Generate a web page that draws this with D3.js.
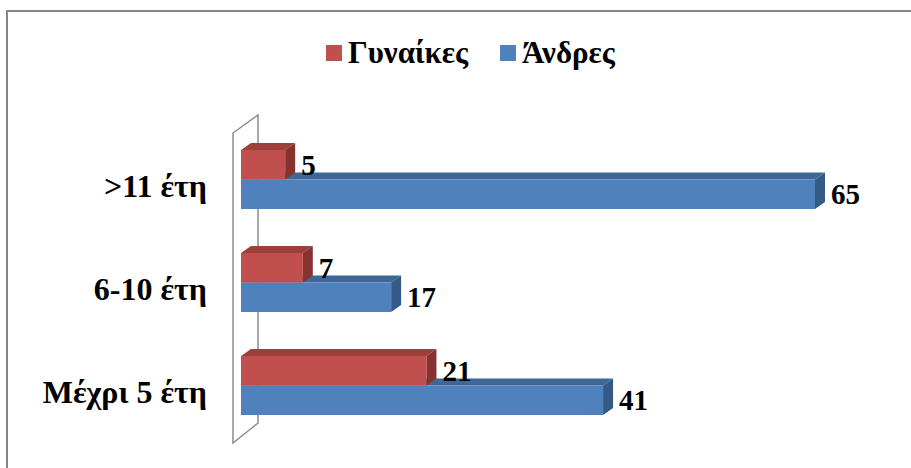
<!DOCTYPE html>
<html>
<head>
<meta charset="utf-8">
<script src="https://cdn.jsdelivr.net/npm/d3@7"></script>
<style>
    body { margin: 0; background: #fff; }
    svg { display: block; }
    text { font-family: "Liberation Serif", "Times New Roman", serif; font-weight: bold; fill: #000; }
</style>
</head>
<body>
<svg id="chart" width="911" height="468"></svg>
<script>
var categories = [">11 έτη", "6-10 έτη", "Μέχρι 5 έτη"];
var seriesNames = ["Γυναίκες", "Άνδρες"];
var women = [5, 7, 21];
var men = [65, 17, 41];

var colors = {
    "Γυναίκες": {front: "#C0504D", top: "#9E3F3C", side: "#86332F"},
    "Άνδρες": {front: "#4F81BD", top: "#3E6798", side: "#365A86"}
};

d3.select(window).on('load', init);

function init() {
    var svg = d3.select('#chart');

    // outer chart border (right / bottom edges fall outside the window)
    svg.append('rect')
        .attr('x', 7).attr('y', 11)
        .attr('width', 920).attr('height', 480)
        .attr('fill', 'none')
        .attr('stroke', '#868686')
        .attr('stroke-width', 2);

    var dx = 10, dy = -7;   // 3d depth of the bars

    var xScale = d3.scaleLinear()
        .domain([0, 65])
        .range([241, 815]);

    var yScale = d3.scaleBand()
        .domain(categories)
        .range([150, 415])
        .paddingInner(0.427);

    var ySub = d3.scaleBand()
        .domain(seriesNames)
        .range([0, yScale.bandwidth()]);

    // back wall of the 3d plot
    var wall = [[233, 133], [258, 115], [258, 423], [233, 443]];
    svg.append('path')
        .attr('d', d3.line()(wall) + 'Z')
        .attr('fill', 'none')
        .attr('stroke', '#8c8c8c')
        .attr('stroke-width', 1.5);

    var rows = [];
    categories.forEach(function(c, i) {
        rows.push({cat: c, name: "Άνδρες", value: men[i]});
        rows.push({cat: c, name: "Γυναίκες", value: women[i]});
    });

    var bars = svg.append('g').selectAll('g')
        .data(rows)
        .enter()
        .append('g');

    function geom(d) {
        var x0 = xScale(0), x1 = xScale(d.value);
        var y0 = yScale(d.cat) + ySub(d.name);
        var h = ySub.bandwidth();
        return {x0: x0, x1: x1, y0: y0, h: h};
    }

    bars.append('path')
        .attr('d', function(d) {
            var g = geom(d);
            return 'M' + g.x0 + ',' + g.y0 + 'L' + (g.x0 + dx) + ',' + (g.y0 + dy) +
                'L' + (g.x1 + dx) + ',' + (g.y0 + dy) + 'L' + g.x1 + ',' + g.y0 + 'Z';
        })
        .attr('fill', function(d) { return colors[d.name].top; });

    bars.append('path')
        .attr('d', function(d) {
            var g = geom(d);
            return 'M' + g.x1 + ',' + g.y0 + 'L' + (g.x1 + dx) + ',' + (g.y0 + dy) +
                'L' + (g.x1 + dx) + ',' + (g.y0 + g.h + dy) + 'L' + g.x1 + ',' + (g.y0 + g.h) + 'Z';
        })
        .attr('fill', function(d) { return colors[d.name].side; });

    bars.append('rect')
        .attr('x', function(d) { return geom(d).x0; })
        .attr('y', function(d) { return geom(d).y0; })
        .attr('width', function(d) { return geom(d).x1 - geom(d).x0; })
        .attr('height', function(d) { return geom(d).h; })
        .attr('fill', function(d) { return colors[d.name].front; });

    // value labels
    bars.append('text')
        .attr('x', function(d) { return geom(d).x1 + dx + 6; })
        .attr('y', function(d) { var g = geom(d); return g.y0 + g.h / 2 + 10; })
        .style('font-size', '29px')
        .text(function(d) { return d.value; });

    // category axis
    var yAxis = d3.axisLeft(yScale).tickSize(0).tickPadding(26);
    var ax = svg.append('g')
        .attr('transform', 'translate(233,7)')
        .call(yAxis);
    ax.select('.domain').remove();
    ax.selectAll('text')
        .style('font-size', '32px')
        .style('font-family', '"Liberation Serif", "Times New Roman", serif')
        .style('font-weight', 'bold')
        .attr('fill', '#000');

    // legend
    var legendX = [326, 500];
    var legend = svg.append('g').selectAll('g')
        .data(seriesNames)
        .enter()
        .append('g')
        .attr('transform', function(d, i) { return 'translate(' + legendX[i] + ',45)'; });
    legend.append('rect')
        .attr('width', 16).attr('height', 16)
        .attr('fill', function(d) { return colors[d].front; });
    legend.append('text')
        .attr('x', 22).attr('y', 18)
        .style('font-size', '31px')
        .text(function(d) { return d; });
}
</script>
</body>
</html>
